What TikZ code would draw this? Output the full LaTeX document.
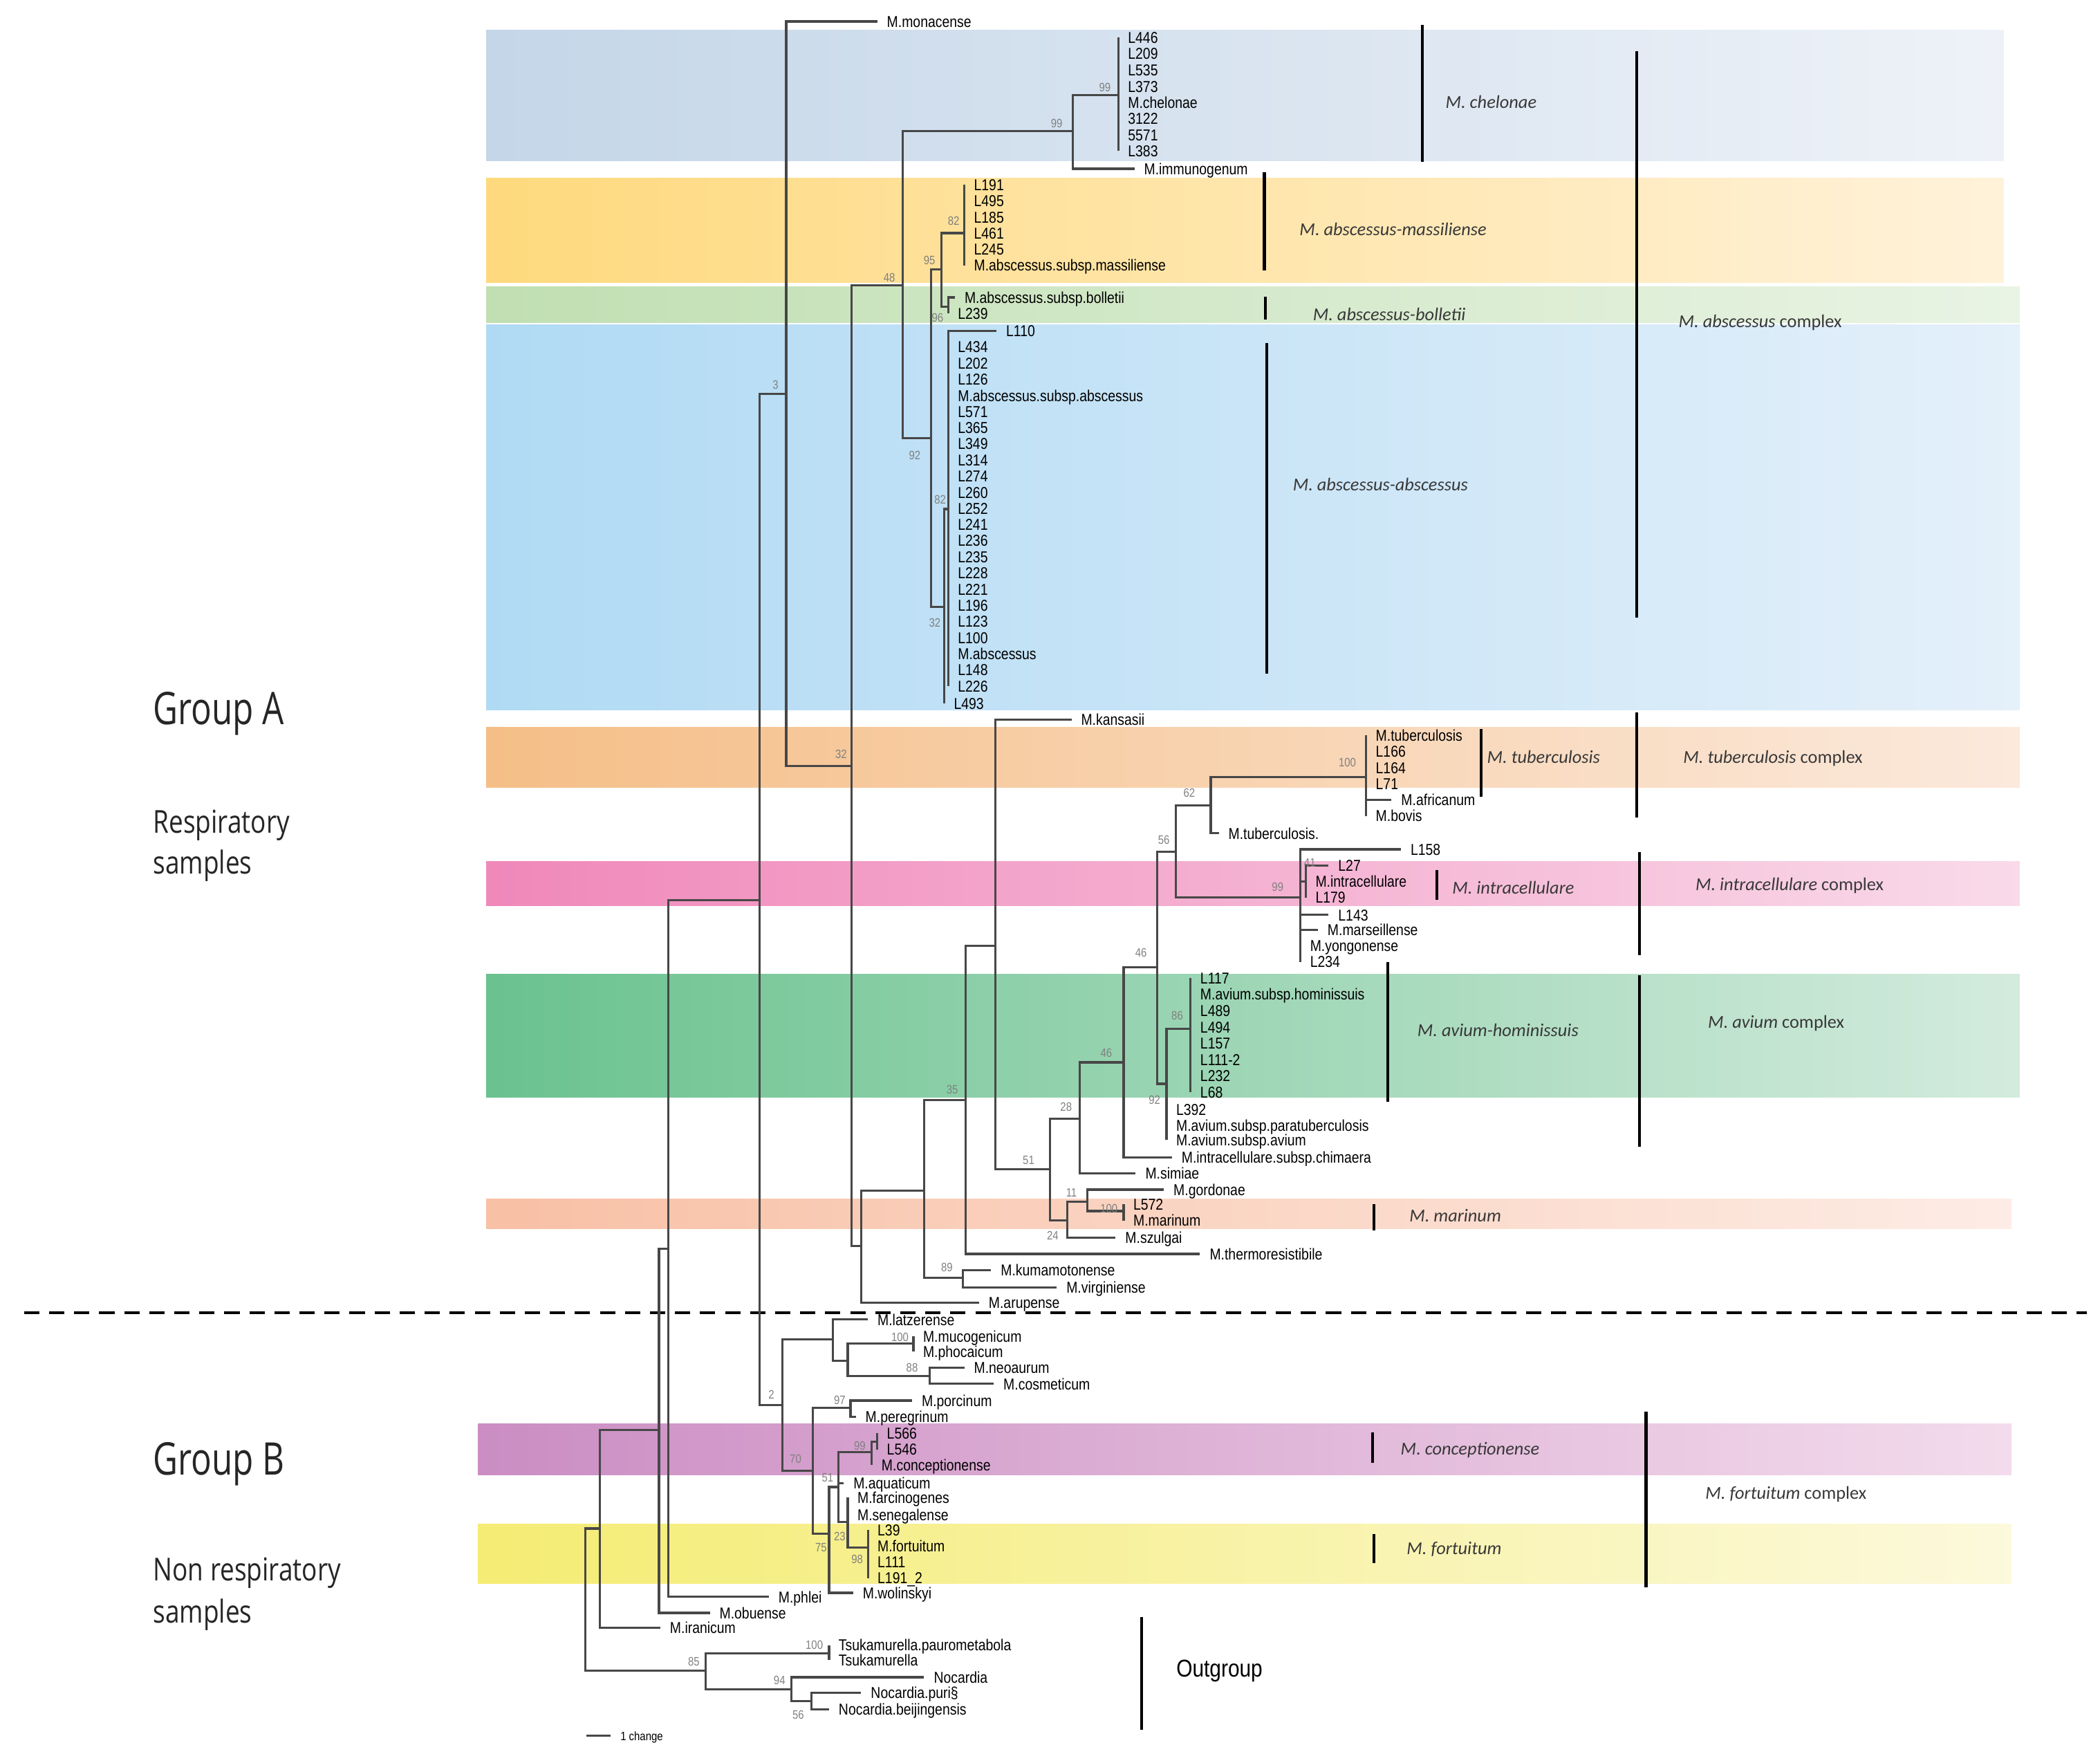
\documentclass[tikz,border=0pt]{standalone}
\usepackage{fontspec}
\setmainfont{Liberation Sans}
\newfontfamily\leaffont[FakeStretch=0.85]{Liberation Sans}
\newfontfamily\cladefont{Carlito}
\newfontfamily\groupfont[FakeStretch=0.76]{Open Sans}
\newfontfamily\samplefont[FakeStretch=0.81]{Open Sans}
\definecolor{cheL}{HTML}{C4D6E8}\definecolor{cheR}{HTML}{EEF2F8}
\definecolor{masL}{HTML}{FED97D}\definecolor{masR}{HTML}{FFF2DA}
\definecolor{bolL}{HTML}{C0DFB2}\definecolor{bolR}{HTML}{E9F4E4}
\definecolor{absL}{HTML}{B0DAF4}\definecolor{absR}{HTML}{E4F0FA}
\definecolor{tubL}{HTML}{F5BE87}\definecolor{tubR}{HTML}{FBE9DC}
\definecolor{intL}{HTML}{F088BA}\definecolor{intR}{HTML}{F9DAE9}
\definecolor{aviL}{HTML}{6AC28F}\definecolor{aviR}{HTML}{D3EBDD}
\definecolor{marL}{HTML}{F8C0A5}\definecolor{marR}{HTML}{FDECE5}
\definecolor{conL}{HTML}{CB8DC3}\definecolor{conR}{HTML}{F3DBEC}
\definecolor{forL}{HTML}{F4EC73}\definecolor{forR}{HTML}{FCF9DC}
\begin{document}
\begin{tikzpicture}[x=0.19368mm, y=-0.19368mm,
    branch/.style={draw=black!72, line width=0.9pt},
    leaf/.style={anchor=west, inner xsep=3.8pt, inner ysep=0pt, text height=4.7pt, text depth=0pt, font=\fontsize{6.5}{7}\leaffont},
    boot/.style={inner sep=0pt, text height=3.6pt, text depth=0pt, text=black!50, font=\fontsize{5}{5}\leaffont},
    cbar/.style={line width=1.2pt},
    clade/.style={anchor=west, inner sep=0pt, text height=5pt, text depth=0pt, text=black!78, font=\fontsize{7.5}{8}\cladefont\itshape},
    grp/.style={anchor=base west, inner sep=0pt, text=black!85}]
    \useasboundingbox (0,0) rectangle (1568,1309);

    % Coloured bands
    \shade[left color=cheL, right color=cheR] (363,22.6) rectangle (1496,120);
    \shade[left color=masL, right color=masR] (363,133) rectangle (1496,211);
    \shade[left color=bolL, right color=bolR] (363,214) rectangle (1508,241);
    \shade[left color=absL, right color=absR] (363,242.5) rectangle (1508,530);
    \shade[left color=tubL, right color=tubR] (363,543) rectangle (1508,588);
    \shade[left color=intL, right color=intR] (363,643) rectangle (1508,676);
    \shade[left color=aviL, right color=aviR] (363,727) rectangle (1508,819);
    \shade[left color=marL, right color=marR] (363,895) rectangle (1502,917);
    \shade[left color=conL, right color=conR] (357,1062.6) rectangle (1502,1101);
    \shade[left color=forL, right color=forR] (357,1137.6) rectangle (1502,1182);

    % Group separator
    \draw[line width=1pt, dash pattern=on 6.3pt off 4pt] (18,980) -- (1558,980);

    % Inner nodes of the tree
    \coordinate (root) at (437,1194);
    \coordinate (n6) at (448,1141);
    \coordinate (n5) at (492,1067.5);
    \coordinate (n4) at (499,932);
    \coordinate (n3) at (567,672);
    \coordinate (nA) at (587,294);
    \coordinate (n32) at (636,572);
    \coordinate (n48) at (674,213);
    \coordinate (n99a) at (801,98);
    \coordinate (n99b) at (835,71);
    \coordinate (n92) at (695,327);
    \coordinate (n95) at (703,201);
    \coordinate (n82m) at (720,174);
    \coordinate (n96) at (708,229);
    \coordinate (n32b) at (705,453);
    \coordinate (n82b) at (708,380);
    \coordinate (nX) at (643,930);
    \coordinate (nY) at (690,889);
    \coordinate (n89) at (719,954);
    \coordinate (n35) at (721,821);
    \coordinate (nZ) at (743,706);
    \coordinate (n51) at (784,873);
    \coordinate (n28) at (806,835);
    \coordinate (n46l) at (839,793);
    \coordinate (n46u) at (864,722);
    \coordinate (n92b) at (871,809);
    \coordinate (n86) at (889,768);
    \coordinate (n56) at (878,636);
    \coordinate (n62) at (904,601);
    \coordinate (n100t) at (1020,580);
    \coordinate (n99i) at (971,670);
    \coordinate (n41) at (975,658);
    \coordinate (n24) at (797,911);
    \coordinate (n11) at (812,897);
    \coordinate (n100m) at (839,904);
    \coordinate (n2) at (584,1049);
    \coordinate (nU) at (622,1000);
    \coordinate (nV) at (633,1016);
    \coordinate (n100b) at (682,1003);
    \coordinate (n88) at (694,1027);
    \coordinate (n70) at (607,1098);
    \coordinate (n97) at (635,1051);
    \coordinate (n75) at (619,1145);
    \coordinate (n51b) at (626,1110);
    \coordinate (n99c) at (651,1084);
    \coordinate (nC) at (655,1076);
    \coordinate (n23) at (633,1136);
    \coordinate (n98) at (648,1155);
    \coordinate (n85) at (527,1247);
    \coordinate (nT) at (619,1234);
    \coordinate (n94) at (591,1261);
    \coordinate (n56b) at (606,1270);

    % Inner branches
    \draw[branch] (root) |- (n6) (root) |- (n85)
        (n6) |- (n5) (n5) |- (n4) (n4) |- (n3) (n3) |- (nA) (n3) |- (n2)
        (nA) |- (n32) (n32) |- (n48) (n32) |- (nX)
        (n48) |- (n99a) (n48) |- (n92) (n99a) |- (n99b)
        (n92) |- (n95) (n92) |- (n32b) (n95) |- (n82m) (n95) |- (n96) (n32b) |- (n82b)
        (nX) |- (nY) (nY) |- (n35) (nY) |- (n89) (n35) |- (nZ) (nZ) |- (n51)
        (n51) |- (n28) (n51) |- (n24) (n28) |- (n46l) (n46l) |- (n46u)
        (n46u) |- (n56) (n46u) |- (n92b) (n92b) |- (n86)
        (n56) |- (n62) (n56) |- (n99i) (n62) |- (n100t) (n99i) |- (n41)
        (n24) |- (n11) (n11) |- (n100m)
        (n2) |- (nU) (n2) |- (n70) (nU) |- (nV) (nV) |- (n100b) (nV) |- (n88)
        (n70) |- (n97) (n70) |- (n75) (n75) |- (n51b) (n51b) |- (n99c) (n51b) |- (n23)
        (n99c) |- (nC) (n23) |- (n98)
        (n85) |- (nT) (n85) |- (n94) (n94) |- (n56b);

    % Leaves: M. chelonae
    \node[leaf] (mon) at (655,16) {M.monacense}; \draw[branch] (nA) |- (mon.west);
    \node[leaf] (L446) at (835,28) {L446}; \draw[branch] (n99b) |- (L446.west);
    \node[leaf] (L209) at (835,40.1) {L209}; \draw[branch] (n99b) |- (L209.west);
    \node[leaf] (L535) at (835,52.3) {L535}; \draw[branch] (n99b) |- (L535.west);
    \node[leaf] (L373) at (835,64.4) {L373}; \draw[branch] (n99b) |- (L373.west);
    \node[leaf] (che) at (835,76.5) {M.chelonae}; \draw[branch] (n99b) |- (che.west);
    \node[leaf] (s3122) at (835,88.6) {3122}; \draw[branch] (n99b) |- (s3122.west);
    \node[leaf] (s5571) at (835,100.7) {5571}; \draw[branch] (n99b) |- (s5571.west);
    \node[leaf] (L383) at (835,112.8) {L383}; \draw[branch] (n99b) |- (L383.west);
    \node[leaf] (imm) at (847,126) {M.immunogenum}; \draw[branch] (n99a) |- (imm.west);

    % Leaves: M. abscessus
    \node[leaf] (L191) at (720,138) {L191}; \draw[branch] (n82m) |- (L191.west);
    \node[leaf] (L495) at (720,150) {L495}; \draw[branch] (n82m) |- (L495.west);
    \node[leaf] (L185) at (720,162) {L185}; \draw[branch] (n82m) |- (L185.west);
    \node[leaf] (L461) at (720,174) {L461}; \draw[branch] (n82m) |- (L461.west);
    \node[leaf] (L245) at (720,186) {L245}; \draw[branch] (n82m) |- (L245.west);
    \node[leaf] (mas) at (720,198) {M.abscessus.subsp.massiliense}; \draw[branch] (n82m) |- (mas.west);
    \node[leaf] (bol) at (713,222) {M.abscessus.subsp.bolletii}; \draw[branch] (n96) |- (bol.west);
    \node[leaf] (L239) at (708,234) {L239}; \draw[branch] (n96) |- (L239.west);
    \node[leaf] (L110) at (744,247) {L110}; \draw[branch] (n82b) |- (L110.west);
    \node[leaf] (L434) at (708,259) {L434}; \draw[branch] (n82b) |- (L434.west);
    \node[leaf] (L202) at (708,271) {L202}; \draw[branch] (n82b) |- (L202.west);
    \node[leaf] (L126) at (708,283.1) {L126}; \draw[branch] (n82b) |- (L126.west);
    \node[leaf] (abs) at (708,295.2) {M.abscessus.subsp.abscessus}; \draw[branch] (n82b) |- (abs.west);
    \node[leaf] (L571) at (708,307.2) {L571}; \draw[branch] (n82b) |- (L571.west);
    \node[leaf] (L365) at (708,319.3) {L365}; \draw[branch] (n82b) |- (L365.west);
    \node[leaf] (L349) at (708,331.3) {L349}; \draw[branch] (n82b) |- (L349.west);
    \node[leaf] (L314) at (708,343.4) {L314}; \draw[branch] (n82b) |- (L314.west);
    \node[leaf] (L274) at (708,355.4) {L274}; \draw[branch] (n82b) |- (L274.west);
    \node[leaf] (L260) at (708,367.5) {L260}; \draw[branch] (n82b) |- (L260.west);
    \node[leaf] (L252) at (708,379.5) {L252}; \draw[branch] (n82b) |- (L252.west);
    \node[leaf] (L241) at (708,391.6) {L241}; \draw[branch] (n82b) |- (L241.west);
    \node[leaf] (L236) at (708,403.6) {L236}; \draw[branch] (n82b) |- (L236.west);
    \node[leaf] (L235) at (708,415.7) {L235}; \draw[branch] (n82b) |- (L235.west);
    \node[leaf] (L228) at (708,427.7) {L228}; \draw[branch] (n82b) |- (L228.west);
    \node[leaf] (L221) at (708,439.8) {L221}; \draw[branch] (n82b) |- (L221.west);
    \node[leaf] (L196) at (708,451.8) {L196}; \draw[branch] (n82b) |- (L196.west);
    \node[leaf] (L123) at (708,463.9) {L123}; \draw[branch] (n82b) |- (L123.west);
    \node[leaf] (L100) at (708,475.9) {L100}; \draw[branch] (n82b) |- (L100.west);
    \node[leaf] (mabs) at (708,488) {M.abscessus}; \draw[branch] (n82b) |- (mabs.west);
    \node[leaf] (L148) at (708,500) {L148}; \draw[branch] (n82b) |- (L148.west);
    \node[leaf] (L226) at (708,512.1) {L226}; \draw[branch] (n82b) |- (L226.west);
    \node[leaf] (L493) at (705,525) {L493}; \draw[branch] (n32b) |- (L493.west);

    % Leaves: slow growers
    \node[leaf] (kan) at (800,537) {M.kansasii}; \draw[branch] (nZ) |- (kan.west);
    \node[leaf] (tub) at (1020,549) {M.tuberculosis}; \draw[branch] (n100t) |- (tub.west);
    \node[leaf] (L166) at (1020,561) {L166}; \draw[branch] (n100t) |- (L166.west);
    \node[leaf] (L164) at (1020,573) {L164}; \draw[branch] (n100t) |- (L164.west);
    \node[leaf] (L71) at (1020,585) {L71}; \draw[branch] (n100t) |- (L71.west);
    \node[leaf] (afr) at (1039,597) {M.africanum}; \draw[branch] (n100t) |- (afr.west);
    \node[leaf] (bov) at (1020,609) {M.bovis}; \draw[branch] (n100t) |- (bov.west);
    \node[leaf] (tubb) at (910,622) {M.tuberculosis.}; \draw[branch] (n62) |- (tubb.west);
    \node[leaf] (L158) at (1046,634) {L158}; \draw[branch] (n99i) |- (L158.west);
    \node[leaf] (L27) at (992,646) {L27}; \draw[branch] (n41) |- (L27.west);
    \node[leaf] (intr) at (975,658) {M.intracellulare}; \draw[branch] (n41) |- (intr.west);
    \node[leaf] (L179) at (975,670) {L179}; \draw[branch] (n41) |- (L179.west);
    \node[leaf] (L143) at (992,683) {L143}; \draw[branch] (n99i) |- (L143.west);
    \node[leaf] (mars) at (984,694) {M.marseillense}; \draw[branch] (n99i) |- (mars.west);
    \node[leaf] (yon) at (971,706) {M.yongonense}; \draw[branch] (n99i) |- (yon.west);
    \node[leaf] (L234) at (971,718) {L234}; \draw[branch] (n99i) |- (L234.west);
    \node[leaf] (L117) at (889,730) {L117}; \draw[branch] (n86) |- (L117.west);
    \node[leaf] (hom) at (889,742.2) {M.avium.subsp.hominissuis}; \draw[branch] (n86) |- (hom.west);
    \node[leaf] (L489) at (889,754.4) {L489}; \draw[branch] (n86) |- (L489.west);
    \node[leaf] (L494) at (889,766.6) {L494}; \draw[branch] (n86) |- (L494.west);
    \node[leaf] (L157) at (889,778.8) {L157}; \draw[branch] (n86) |- (L157.west);
    \node[leaf] (L1112) at (889,791) {L111-2}; \draw[branch] (n86) |- (L1112.west);
    \node[leaf] (L232) at (889,803.2) {L232}; \draw[branch] (n86) |- (L232.west);
    \node[leaf] (L68) at (889,815.4) {L68}; \draw[branch] (n86) |- (L68.west);
    \node[leaf] (L392) at (871,828) {L392}; \draw[branch] (n92b) |- (L392.west);
    \node[leaf] (para) at (871,840) {M.avium.subsp.paratuberculosis}; \draw[branch] (n92b) |- (para.west);
    \node[leaf] (avi) at (871,851) {M.avium.subsp.avium}; \draw[branch] (n92b) |- (avi.west);
    \node[leaf] (chim) at (875,864) {M.intracellulare.subsp.chimaera}; \draw[branch] (n46l) |- (chim.west);
    \node[leaf] (sim) at (848,876) {M.simiae}; \draw[branch] (n28) |- (sim.west);
    \node[leaf] (gor) at (869,888) {M.gordonae}; \draw[branch] (n11) |- (gor.west);
    \node[leaf] (L572) at (839,899) {L572}; \draw[branch] (n100m) |- (L572.west);
    \node[leaf] (mar) at (839,911) {M.marinum}; \draw[branch] (n100m) |- (mar.west);
    \node[leaf] (szu) at (833,924) {M.szulgai}; \draw[branch] (n24) |- (szu.west);
    \node[leaf] (the) at (896,936) {M.thermoresistibile}; \draw[branch] (n35) |- (the.west);
    \node[leaf] (kum) at (740,948) {M.kumamotonense}; \draw[branch] (n89) |- (kum.west);
    \node[leaf] (vir) at (789,961) {M.virginiense}; \draw[branch] (n89) |- (vir.west);
    \node[leaf] (aru) at (731,972.5) {M.arupense}; \draw[branch] (nX) |- (aru.west);

    % Leaves: rapid growers
    \node[leaf] (lat) at (648,985) {M.latzerense}; \draw[branch] (nU) |- (lat.west);
    \node[leaf] (muc) at (682,997.5) {M.mucogenicum}; \draw[branch] (n100b) |- (muc.west);
    \node[leaf] (pho) at (682,1009) {M.phocaicum}; \draw[branch] (n100b) |- (pho.west);
    \node[leaf] (neo) at (720,1021) {M.neoaurum}; \draw[branch] (n88) |- (neo.west);
    \node[leaf] (cos) at (742,1033) {M.cosmeticum}; \draw[branch] (n88) |- (cos.west);
    \node[leaf] (por) at (681,1045.5) {M.porcinum}; \draw[branch] (n97) |- (por.west);
    \node[leaf] (per) at (639,1057.6) {M.peregrinum}; \draw[branch] (n97) |- (per.west);
    \node[leaf] (L566) at (655,1070) {L566}; \draw[branch] (nC) |- (L566.west);
    \node[leaf] (L546) at (655,1082) {L546}; \draw[branch] (nC) |- (L546.west);
    \node[leaf] (con) at (651,1093.5) {M.conceptionense}; \draw[branch] (n99c) |- (con.west);
    \node[leaf] (aqu) at (630,1107) {M.aquaticum}; \draw[branch] (n51b) |- (aqu.west);
    \node[leaf] (far) at (633,1118) {M.farcinogenes}; \draw[branch] (n23) |- (far.west);
    \node[leaf] (sen) at (633,1131) {M.senegalense}; \draw[branch] (n23) |- (sen.west);
    \node[leaf] (L39) at (648,1142) {L39}; \draw[branch] (n98) |- (L39.west);
    \node[leaf] (for) at (648,1154) {M.fortuitum}; \draw[branch] (n98) |- (for.west);
    \node[leaf] (L111) at (648,1166) {L111}; \draw[branch] (n98) |- (L111.west);
    \node[leaf] (L1912) at (648,1178) {L191\_2}; \draw[branch] (n98) |- (L1912.west);
    \node[leaf] (wol) at (637,1189) {M.wolinskyi}; \draw[branch] (n75) |- (wol.west);
    \node[leaf] (phl) at (574,1192) {M.phlei}; \draw[branch] (n4) |- (phl.west);
    \node[leaf] (obu) at (530,1204) {M.obuense}; \draw[branch] (n5) |- (obu.west);
    \node[leaf] (ira) at (493,1215) {M.iranicum}; \draw[branch] (n6) |- (ira.west);

    % Leaves: outgroup
    \node[leaf] (tsp) at (619,1228) {Tsukamurella.paurometabola}; \draw[branch] (nT) |- (tsp.west);
    \node[leaf] (tsu) at (619,1239) {Tsukamurella}; \draw[branch] (nT) |- (tsu.west);
    \node[leaf] (noc) at (690,1252) {Nocardia}; \draw[branch] (n94) |- (noc.west);
    \node[leaf] (nocp) at (643,1263.5) {Nocardia.puri§}; \draw[branch] (n56b) |- (nocp.west);
    \node[leaf] (nocb) at (619,1276) {Nocardia.beijingensis}; \draw[branch] (n56b) |- (nocb.west);

    % Bootstrap values
    \node[boot] (bsA) at (579,287) {3};
    \node[boot] (bs32) at (628,563) {32};
    \node[boot] (bs48) at (664,207) {48};
    \node[boot] (bs99a) at (789,92) {99};
    \node[boot] (bs99b) at (825,65) {99};
    \node[boot] (bs95) at (694,194) {95};
    \node[boot] (bs82m) at (712,165) {82};
    \node[boot] (bs96) at (700,237) {96};
    \node[boot] (bs92) at (683,340) {92};
    \node[boot] (bs82b) at (702,373) {82};
    \node[boot] (bs32b) at (698,465) {32};
    \node[boot] (bs100t) at (1006,569) {100};
    \node[boot] (bs62) at (888,592) {62};
    \node[boot] (bs56) at (869,627) {56};
    \node[boot] (bs41) at (978,644) {41};
    \node[boot] (bs99i) at (954,662) {99};
    \node[boot] (bs46u) at (852,711) {46};
    \node[boot] (bs86) at (879,758) {86};
    \node[boot] (bs46l) at (826,786) {46};
    \node[boot] (bs92b) at (862,821) {92};
    \node[boot] (bs35) at (711,813) {35};
    \node[boot] (bs28) at (796,826) {28};
    \node[boot] (bs51) at (768,866) {51};
    \node[boot] (bs11) at (800,890) {11};
    \node[boot] (bs100m) at (828,902) {100};
    \node[boot] (bs24) at (786,922) {24};
    \node[boot] (bs89) at (707,946) {89};
    \node[boot] (bs2) at (576,1041) {2};
    \node[boot] (bs100b) at (672,998) {100};
    \node[boot] (bs88) at (681,1021) {88};
    \node[boot] (bs97) at (627,1045) {97};
    \node[boot] (bs99c) at (642,1079) {99};
    \node[boot] (bs70) at (594,1089) {70};
    \node[boot] (bs51b) at (618,1103) {51};
    \node[boot] (bs23) at (627,1147) {23};
    \node[boot] (bs75) at (613,1155) {75};
    \node[boot] (bs98) at (640,1164) {98};
    \node[boot] (bs85) at (518,1240) {85};
    \node[boot] (bsT) at (608,1228) {100};
    \node[boot] (bs94) at (582,1254) {94};
    \node[boot] (bs56b) at (596,1280) {56};

    % Clade bars
    \draw[cbar] (1062,18.5) -- (1062,121);
    \draw[cbar] (944,128.5) -- (944,202);
    \draw[cbar] (945,221.5) -- (945,238.7);
    \draw[cbar] (946,256) -- (946,503);
    \draw[cbar] (1222,38) -- (1222,461);
    \draw[cbar] (1106,544) -- (1106,595);
    \draw[cbar] (1222,532) -- (1222,610);
    \draw[cbar] (1073,649.6) -- (1073,671.7);
    \draw[cbar] (1224,636) -- (1224,713);
    \draw[cbar] (1036,718) -- (1036,822.5);
    \draw[cbar] (1224,728) -- (1224,856);
    \draw[cbar] (1026,898.6) -- (1026,918.6);
    \draw[cbar] (1025,1069) -- (1025,1092);
    \draw[cbar] (1229,1054) -- (1229,1185);
    \draw[cbar] (1026,1145) -- (1026,1167);
    \draw[cbar] (852.5,1207) -- (852.5,1291);

    % Clade labels
    \node[clade] (lche) at (1079,76) {M. chelonae};
    \node[clade] (lmas) at (970,171) {M. abscessus-massiliense};
    \node[clade] (lbol) at (980,234.6) {M. abscessus-bolletii};
    \node[clade] (labs) at (965,362) {M. abscessus-abscessus};
    \node[clade] (cabs) at (1253,240) {M. abscessus {\upshape complex}};
    \node[clade] (ltub) at (1110,565) {M. tuberculosis};
    \node[clade] (ctub) at (1256.5,565) {M. tuberculosis {\upshape complex}};
    \node[clade] (lint) at (1084,663) {M. intracellulare};
    \node[clade] (cint) at (1265.6,660) {M. intracellulare {\upshape complex}};
    \node[clade] (lhom) at (1058,769) {M. avium-hominissuis};
    \node[clade] (cavi) at (1275,763) {M. avium {\upshape complex}};
    \node[clade] (lmar) at (1052,907.7) {M. marinum};
    \node[clade] (lcon) at (1045.5,1081.5) {M. conceptionense};
    \node[clade] (cfor) at (1273,1114.5) {M. fortuitum {\upshape complex}};
    \node[clade] (lfor) at (1050,1155.6) {M. fortuitum};
    \node[clade, font=\fontsize{10}{10}\leaffont, text=black, text height=7.2pt] (lout) at (878,1245) {Outgroup};

    % Scale bar
    \coordinate (sc1) at (438,1295.6);
    \coordinate (sc2) at (456,1295.6);
    \draw[branch] (sc1) -- (sc2);
    \node[leaf, font=\fontsize{5}{5}\leaffont, text height=3.6pt] (scl) at (456,1296) {1 change};

    % Sample groups
    \node[grp, font=\fontsize{18.5}{20}\groupfont] (grpA) at (114,541) {Group A};
    \node[grp, font=\fontsize{13}{14}\samplefont] (respA) at (114,622) {Respiratory};
    \node[grp, font=\fontsize{13}{14}\samplefont] (respB) at (114,652.5) {samples};
    \node[grp, font=\fontsize{18.5}{20}\groupfont] (grpB) at (114,1101) {Group B};
    \node[grp, font=\fontsize{13}{14}\samplefont] (nonA) at (114,1180) {Non respiratory};
    \node[grp, font=\fontsize{13}{14}\samplefont] (nonB) at (114,1211.5) {samples};
\end{tikzpicture}
\end{document}
